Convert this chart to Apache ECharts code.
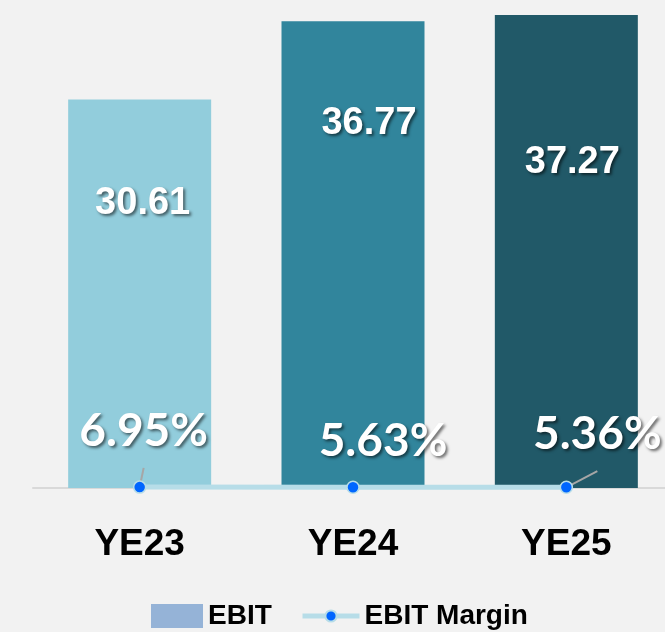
<!DOCTYPE html>
<html>
<head>
<meta charset="utf-8">
<script src="https://cdn.jsdelivr.net/npm/echarts@6/dist/echarts.min.js"></script>
<style>
html,body{margin:0;padding:0;background:#f2f2f2;}
#chart{width:665px;height:632px;}
</style>
</head>
<body>
<div id="chart"></div>
<script>
// ---- data ----
const categories = ['YE23', 'YE24', 'YE25'];
const ebit = [30.61, 36.77, 37.27];
const ebitMargin = [0.0695, 0.0563, 0.0536];
const seriesNames = ['EBIT', 'EBIT Margin'];

// ---- styling (not data) ----
const barColors = ['#92cddc', '#31859c', '#215968'];
const barLabelPos = [[104, 3], [102.5, 16], [147.5, 6]];     // [y from bar top, x offset]
const lineLabelShift = [[4, -4], [30, 6], [31, -1]];
const lineLabelGuide = [true, false, true];

const chart = echarts.init(document.getElementById('chart'));
const shadow = {textShadowColor: 'rgba(0,0,0,0.55)', textShadowBlur: 3, textShadowOffsetX: 2, textShadowOffsetY: 2};
const legendText = {fontFamily: 'Liberation Sans', fontWeight: 'bold', fontSize: 28, color: '#000'};

const option = {
  backgroundColor: '#f2f2f2',
  animation: false,
  grid: {left: 33, right: -8, top: 0, bottom: 144, containLabel: false, outerBoundsMode: 'none'},
  legend: [
    {
      left: 146, top: 597,
      itemWidth: 52, itemHeight: 24,
      textStyle: legendText,
      data: [{name: seriesNames[0], icon: 'rect'}]
    },
    {
      left: 295, top: 597,
      itemWidth: 57, itemHeight: 14,
      textStyle: legendText,
      lineStyle: {width: 5},
      data: [{name: seriesNames[1]}]
    }
  ],
  xAxis: {
    type: 'category', data: categories,
    axisLine: {lineStyle: {color: '#d9d9d9', width: 2}},
    axisTick: {show: false},
    axisLabel: {margin: 38, fontFamily: 'Liberation Sans', fontWeight: 'bold', fontSize: 37, color: '#000'}
  },
  yAxis: {type: 'value', min: 0, max: 38.45, show: false, splitLine: {show: false}},
  series: [
    {
      name: seriesNames[0], type: 'bar', barWidth: 143,
      itemStyle: {color: '#95b3d7'},
      data: ebit.map((v, i) => ({
        value: v,
        itemStyle: {color: barColors[i]},
        label: {
          show: true,
          position: ['50%', barLabelPos[i][0]],
          offset: [barLabelPos[i][1], 0],
          align: 'center', verticalAlign: 'middle',
          formatter: (p) => p.value.toFixed(2),
          fontFamily: 'Liberation Sans', fontWeight: 'bold', fontSize: 38, color: '#fff',
          ...shadow
        }
      }))
    },
    {
      name: seriesNames[1], type: 'line', z: 5,
      symbol: 'circle', symbolSize: 12,
      lineStyle: {color: '#b7dde8', width: 5},
      itemStyle: {color: '#0066ff', borderColor: '#b7dde8', borderWidth: 1.5},
      labelLayout: (p) => ({dx: lineLabelShift[p.dataIndex][0], dy: lineLabelShift[p.dataIndex][1]}),
      data: ebitMargin.map((v, i) => ({
        value: v,
        label: {
          show: true, position: 'top', distance: 5,
          formatter: (p) => '{a|' + (p.value * 100).toFixed(2) + '%}\n{b|}',
          rich: {
            a: {fontFamily: 'Lato', fontWeight: 'bold', fontSize: 46, color: '#fff', ...shadow},
            b: {height: 17, fontSize: 10}
          }
        },
        labelLine: {show: lineLabelGuide[i], lineStyle: {color: '#a6a6a6', width: 2}}
      }))
    }
  ]
};
chart.setOption(option);
</script>
</body>
</html>
